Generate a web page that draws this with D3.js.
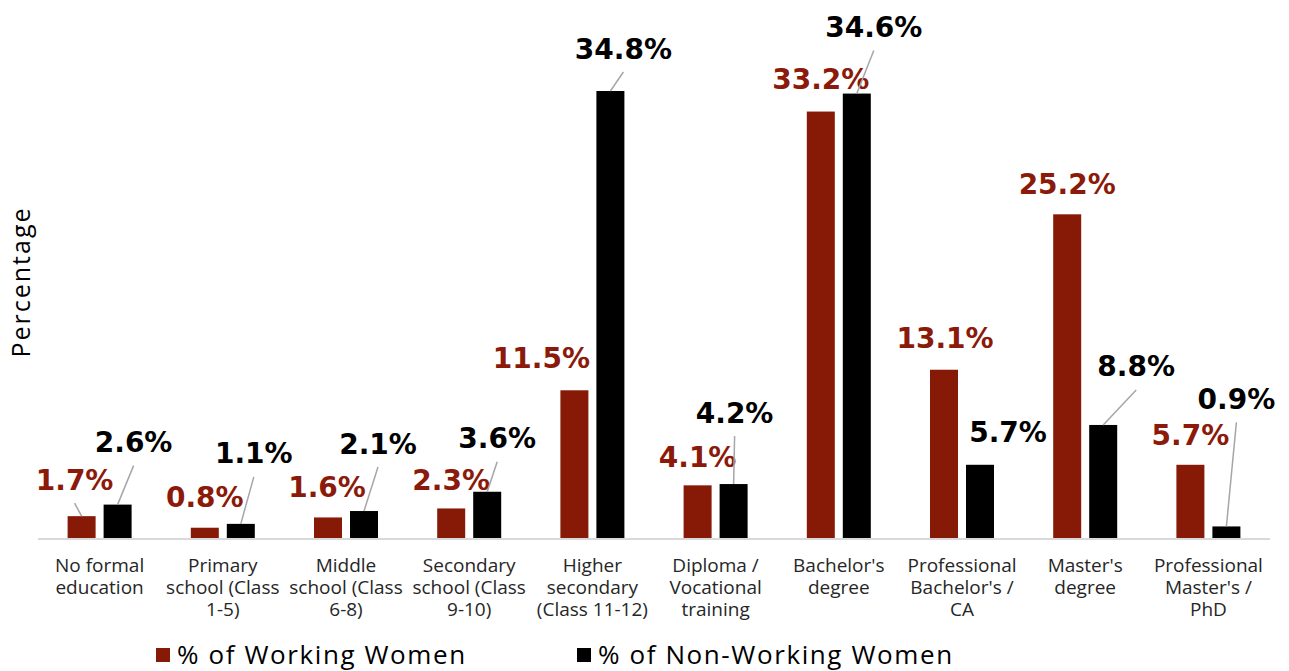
<!DOCTYPE html>
<html>
<head>
<meta charset="utf-8">
<script src="https://cdn.jsdelivr.net/npm/d3@7/dist/d3.min.js"></script>
<style>
  html, body { margin: 0; padding: 0; background: #fff; }
  svg { display: block; }
</style>
</head>
<body>
<svg id="chart" width="1289" height="671"></svg>
<script>
// Education level categories (label lines)
const categories = [
  ["No formal", "education"],
  ["Primary", "school (Class", "1-5)"],
  ["Middle", "school (Class", "6-8)"],
  ["Secondary", "school (Class", "9-10)"],
  ["Higher", "secondary", "(Class 11-12)"],
  ["Diploma /", "Vocational", "training"],
  ["Bachelor's", "degree"],
  ["Professional", "Bachelor's /", "CA"],
  ["Master's", "degree"],
  ["Professional", "Master's /", "PhD"]
];
const seriesNames = ["% of Working Women", "% of Non-Working Women"];
const working    = [1.7, 0.8, 1.6, 2.3, 11.5, 4.1, 33.2, 13.1, 25.2, 5.7];
const nonWorking = [2.6, 1.1, 2.1, 3.6, 34.8, 4.2, 34.6, 5.7, 8.8, 0.9];

// Hand-placed label offsets from the top centre of each bar: [dx, dy, leader]
const workingLabelPos = [
  [-7, -36, true], [0, -30, false], [-1, -30, false], [0, -28, false], [-33, -32, false],
  [0, -28, false], [0, -32, false], [1, -31, false], [0, -30, false], [0, -29, false]
];
const nonWorkingLabelPos = [
  [16, -62, true], [13, -70, true], [14, -67, true], [10, -53, true], [13, -42, true],
  [1, -71, true], [17, -66, true], [28, -32, false], [33, -58, true], [10, -127, true]
];

const colors = ["#861a06", "#000000"];
const labelColors = ["#8b1a0a", "#000000"];

const svg = d3.select("#chart");
const margin = { left: 38, right: 19, baseline: 538 };

const x0 = d3.scaleBand()
  .domain(d3.range(categories.length))
  .range([margin.left, 1289 - margin.right]);

const x1 = d3.scaleBand()
  .domain([0, 1])
  .range([0, 64])
  .paddingInner(8 / 36);

const y = d3.scaleLinear()
  .domain([0, 34.8])
  .range([margin.baseline, 91]);

const groupOffset = (x0.bandwidth() - 64) / 2;
const series = [working, nonWorking];

// Bars
series.forEach((vals, s) => {
  svg.append("g").selectAll("rect")
    .data(vals)
    .join("rect")
    .attr("x", (d, i) => x0(i) + groupOffset + x1(s))
    .attr("y", d => y(d))
    .attr("width", x1.bandwidth())
    .attr("height", d => y(0) - y(d))
    .attr("fill", colors[s]);
});

// Baseline
svg.append("line")
  .attr("x1", margin.left).attr("x2", 1289 - margin.right)
  .attr("y1", y(0) + 1).attr("y2", y(0) + 1)
  .attr("stroke", "#d9d9d9").attr("stroke-width", 2);

// Data labels with leader lines
const labelPositions = [workingLabelPos, nonWorkingLabelPos];
series.forEach((vals, s) => {
  const g = svg.append("g");
  vals.forEach((v, i) => {
    const cx = x0(i) + groupOffset + x1(s) + x1.bandwidth() / 2;
    const top = y(v);
    const [dx, dy, leader] = labelPositions[s][i];
    const lx = cx + dx, ly = top + dy;
    if (leader) {
      g.append("line")
        .attr("x1", lx).attr("y1", ly + 23)
        .attr("x2", cx).attr("y2", top)
        .attr("stroke", "#a6a6a6").attr("stroke-width", 1.5);
    }
    g.append("text")
      .attr("x", lx).attr("y", ly)
      .attr("text-anchor", "middle")
      .attr("dominant-baseline", "central")
      .attr("font-family", "'DejaVu Sans', sans-serif")
      .attr("font-weight", "bold")
      .attr("font-size", 28)
      .attr("fill", labelColors[s])
      .text(v.toFixed(1) + "%");
  });
});

// Category labels, one text per line
const catG = svg.append("g");
categories.forEach((lines, i) => {
  lines.forEach((ln, k) => {
    catG.append("text")
      .attr("x", x0(i) + x0.bandwidth() / 2)
      .attr("y", 572 + k * 22)
      .attr("text-anchor", "middle")
      .attr("font-family", "'Open Sans', sans-serif")
      .attr("font-size", 19)
      .attr("fill", "#262626")
      .text(ln);
  });
});

// Y axis title
svg.append("text")
  .attr("transform", "translate(30,282) rotate(-90)")
  .attr("text-anchor", "middle")
  .attr("font-family", "'Open Sans', sans-serif")
  .attr("font-size", 25)
  .attr("letter-spacing", 2)
  .attr("fill", "#000")
  .text("Percentage");

// Legend
const legendX = [156, 577];
seriesNames.forEach((name, s) => {
  svg.append("rect")
    .attr("x", legendX[s]).attr("y", 648)
    .attr("width", 14).attr("height", 14)
    .attr("fill", colors[s]);
  svg.append("text")
    .attr("x", legendX[s] + 21).attr("y", 664)
    .attr("font-family", "'Open Sans', sans-serif")
    .attr("font-size", 26)
    .attr("letter-spacing", 1.6)
    .attr("fill", "#000")
    .text(name);
});
</script>
</body>
</html>
